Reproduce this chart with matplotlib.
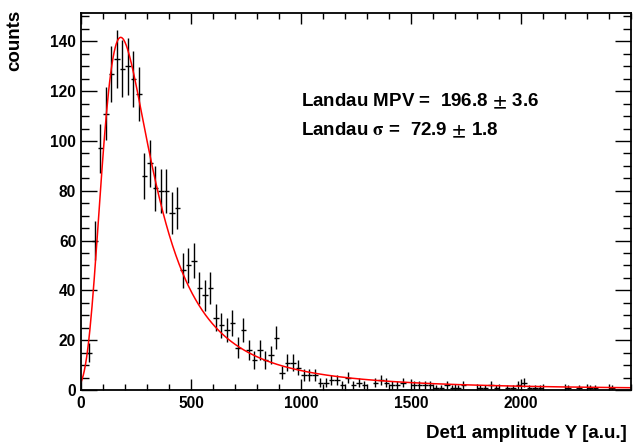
import numpy as np
import matplotlib
matplotlib.use('Agg')
import matplotlib.pyplot as plt
from matplotlib.ticker import MultipleLocator, FixedLocator

plt.rcParams['font.family'] = ['Liberation Sans', 'DejaVu Sans']
plt.rcParams['font.weight'] = 'bold'
plt.rcParams['mathtext.fontset'] = 'stix'

# histogram: 100 bins of width 25 from 0 to 2500
bin_width = 25
counts = [0, 15, 60, 97, 111, 127, 133, 129, 130, 125,
          119, 86, 91, 81, 80, 80, 71, 73, 48, 50,
          52, 41, 38, 41, 29, 26, 24, 27, 17, 24,
          16, 12, 16, 12, 14, 21, 7, 11, 11, 9,
          6, 6, 6, 3, 3, 4, 4, 2, 5, 2,
          3, 2, 0, 3, 4, 3, 2, 2, 3, 0,
          2, 2, 2, 2, 1, 1, 2, 1, 1, 2,
          0, 0, 1, 1, 2, 1, 0, 1, 1, 2,
          3, 1, 1, 1, 0, 0, 0, 0, 1, 0,
          1, 0, 1, 1, 0, 0, 1, 0, 0, 0]

# Landau fit parameters (ROOT convention)
fit_const = 784.0
fit_mpv = 196.8
fit_mpv_err = 3.6
fit_sigma = 72.9
fit_sigma_err = 1.8

x_ticks = [0, 500, 1000, 1500, 2000]
y_ticks = [0, 20, 40, 60, 80, 100, 120, 140]


def landau(lam):
    # phi(lam) = 1/pi * int_0^inf exp(-t ln t - lam t) sin(pi t) dt
    t = np.linspace(1e-9, 50, 20001)
    lam = np.asarray(lam)[:, None]
    f = np.exp(-t * np.log(t) - lam * t) * np.sin(np.pi * t)
    return np.trapezoid(f, t, axis=1) / np.pi


counts = np.array(counts, dtype=float)
centers = bin_width * (np.arange(len(counts)) + 0.5)
nz = counts > 0

fig = plt.figure(figsize=(6.34, 4.46), dpi=100)
ax = fig.add_axes([81 / 634, 56 / 446, 550 / 634, 377 / 446])

ax.errorbar(centers[nz], counts[nz], xerr=bin_width / 2, yerr=np.sqrt(counts[nz]),
            fmt='none', ecolor='black', elinewidth=1.0, capsize=0)

xf = np.linspace(0, 2500, 500)
yf = fit_const * landau((xf - fit_mpv) / fit_sigma)
ax.plot(xf, yf, color='red', lw=1.1)

ax.set_xlim(0, 2500)
ax.set_ylim(0, 151.4)

ax.xaxis.set_major_locator(FixedLocator(x_ticks))
ax.xaxis.set_minor_locator(MultipleLocator(100))
ax.yaxis.set_major_locator(FixedLocator(y_ticks))
ax.yaxis.set_minor_locator(MultipleLocator(5))
ax.tick_params(axis='both', which='both', direction='in', top=True, right=True,
               width=1.0, labelsize=11.2)
ax.tick_params(axis='x', which='major', length=8, pad=4)
ax.tick_params(axis='x', which='minor', length=4)
ax.tick_params(axis='y', which='major', length=11.5, pad=3.5)
ax.tick_params(axis='y', which='minor', length=5.8)
for lab in ax.get_xticklabels() + ax.get_yticklabels():
    lab.set_fontweight('bold')
for s in ax.spines.values():
    s.set_linewidth(1.3)

ax.text(0.40, 0.765, 'Landau MPV =  %.1f $\\pm$ %.1f' % (fit_mpv, fit_mpv_err),
        transform=ax.transAxes, fontsize=13.5, fontweight='bold', va='center')
ax.text(0.40, 0.688, 'Landau $\\mathrm{\\sigma}$ =  %.1f $\\pm$ %.1f' % (fit_sigma, fit_sigma_err),
        transform=ax.transAxes, fontsize=13.5, fontweight='bold', va='center')

fig.text(15 / 634, 1 - 10 / 446, 'counts', rotation=90, ha='center', va='top',
         fontsize=13.5, fontweight='bold')
fig.text(627 / 634, 1 - 433 / 446, 'Det1 amplitude Y [a.u.]', ha='right', va='center',
         fontsize=13.5, fontweight='bold')

fig.savefig('out.png', dpi=100)
